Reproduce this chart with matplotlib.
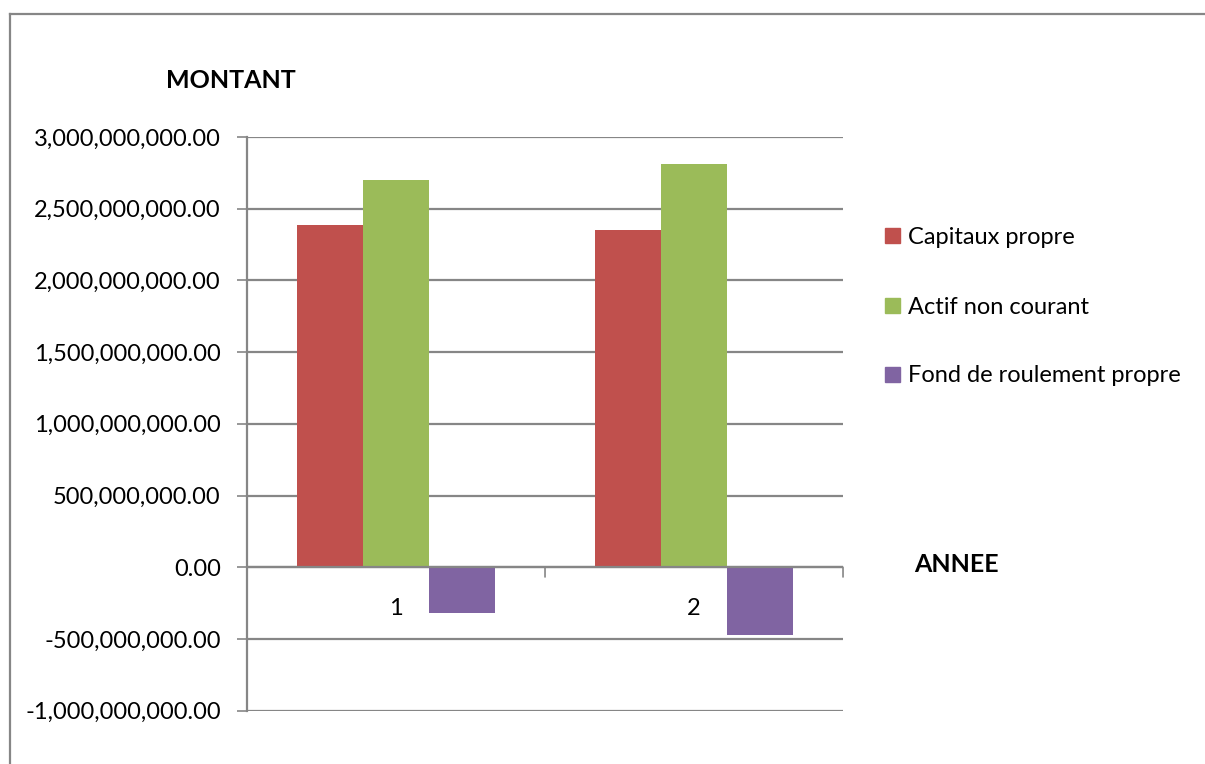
import matplotlib

matplotlib.use("Agg")
import matplotlib.pyplot as plt
from matplotlib.lines import Line2D
from matplotlib.patches import Rectangle
from matplotlib.ticker import FuncFormatter, MultipleLocator

plt.rcParams["font.family"] = ["Lato", "DejaVu Sans"]

years = ["1", "2"]
series_names = ["Capitaux propre", "Actif non courant", "Fond de roulement propre"]
capitaux_propre = [2.387e9, 2.352e9]
actif_non_courant = [2.700e9, 2.812e9]
fond_roulement = [-0.317e9, -0.472e9]
colors = ["#C0504D", "#9BBB59", "#8064A2"]
GRID = "#868686"

fig = plt.figure(figsize=(12.05, 7.64), dpi=100)
ax = fig.add_axes([0.205, 0.0698, 0.4946, 0.7509])

bar_w = 1 / 4.5  # gap width 150%
values = [capitaux_propre, actif_non_courant, fond_roulement]
for i, (vals, col, name) in enumerate(zip(values, colors, series_names)):
    xs = [k + (i - 1) * bar_w for k in range(len(years))]
    ax.bar(xs, vals, width=bar_w, color=col, label=name, zorder=3)

ax.set_xlim(-0.5, len(years) - 0.5)
ax.set_ylim(-1e9, 3e9)
ax.yaxis.set_major_locator(MultipleLocator(5e8))
ax.yaxis.set_major_formatter(FuncFormatter(lambda v, _: f"{v:,.2f}"))
ax.grid(axis="y", color=GRID, lw=1.6, zorder=0)
ax.tick_params(axis="y", length=7, width=1.2, color=GRID, labelsize=17, pad=12)
ax.set_xticks([])

for side in ["top", "right", "bottom"]:
    ax.spines[side].set_visible(False)
ax.spines["left"].set_color(GRID)
ax.spines["left"].set_linewidth(1.6)

# category axis drawn at zero with boundary ticks
ax.axhline(0, color=GRID, lw=1.6, zorder=4)
for b in [-0.5, 0.5, 1.5]:
    ax.annotate("", xy=(b, 0), xytext=(0, -7), textcoords="offset points", xycoords="data",
                arrowprops=dict(arrowstyle="-", color=GRID, lw=1.2, shrinkA=0, shrinkB=0))
for k, lab in enumerate(years):
    ax.annotate(lab, xy=(k, 0), xytext=(0, -30), textcoords="offset points",
                ha="center", va="center", fontsize=17)

fig.text(231 / 1205, 1 - 80 / 764, "MONTANT", ha="center", va="center",
         fontsize=18, fontweight="bold")
fig.text(956 / 1205, 1 - 565 / 764, "ANNEE", ha="center", va="center",
         fontsize=18, fontweight="bold")

# legend entries
leg_y = [237, 307, 376]
for name, col, y in zip(series_names, colors, leg_y):
    fig.patches.append(Rectangle((885 / 1205, 1 - (y + 6) / 764), 15 / 1205, 15 / 764,
                                 transform=fig.transFigure, color=col))
    fig.text(908 / 1205, 1 - y / 764, name, ha="left", va="center", fontsize=17)

# outer chart frame (top and left edges)
fig.add_artist(Line2D([9.5 / 1205, 9.5 / 1205], [0, 1 - 14 / 764], color=GRID, lw=1.6,
                      transform=fig.transFigure))
fig.add_artist(Line2D([9.5 / 1205, 1], [1 - 14 / 764, 1 - 14 / 764], color=GRID, lw=1.6,
                      transform=fig.transFigure))

fig.savefig("out.png", dpi=100)
